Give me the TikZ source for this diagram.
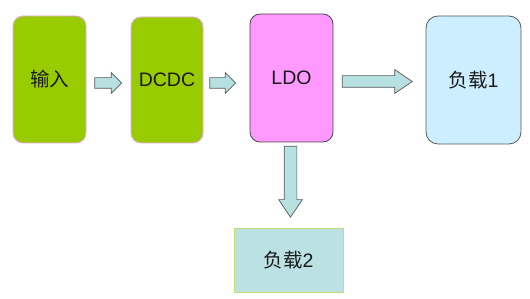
\documentclass[tikz,border=0pt]{standalone}
\usepackage{fontspec}
\setmainfont{Liberation Sans}
\newfontfamily\cjk{Noto Sans CJK SC}
\usetikzlibrary{shapes.arrows,positioning}
\definecolor{ink}{HTML}{1A1A1A}
\definecolor{inkgray}{HTML}{595959}
\definecolor{leafgreen}{HTML}{99CC00}
\definecolor{softpink}{HTML}{E9A6E2}
\definecolor{ldopink}{HTML}{FF99FF}
\definecolor{skyblue}{HTML}{CCEEFF}
\definecolor{tealbg}{HTML}{BBE1E4}
\definecolor{limeedge}{HTML}{C6E070}
\definecolor{arrowbg}{HTML}{B7E0E0}
\tikzset{
  greencard/.style={draw=softpink,fill=leafgreen,line width=0.8pt,rounded corners=10pt,align=center,font=\fontsize{19.5}{22}\selectfont,text=ink},
  pinkcard/.style={draw=inkgray!80!black,fill=ldopink,line width=0.8pt,rounded corners=10pt,align=center,font=\fontsize{19.5}{22}\selectfont,text=ink},
  bluecard/.style={draw=inkgray,fill=skyblue,line width=0.8pt,rounded corners=12pt,align=center,font=\fontsize{19.5}{22}\selectfont,text=ink},
  tealcard/.style={draw=limeedge,fill=tealbg,line width=0.8pt,align=center,font=\fontsize{19.5}{22}\selectfont,text=ink},
  blockarr/.style={single arrow,draw=inkgray,fill=arrowbg,line width=0.7pt,inner sep=0pt,outer sep=0pt}
}
\begin{document}
\begin{tikzpicture}[x=1pt,y=-1pt]
  \useasboundingbox (0,0) rectangle (530,299);
  \node[greencard,minimum width=73pt,minimum height=127pt] (input) at (49.5,79.5) {\cjk 输入};
  \node[greencard,minimum width=72pt,minimum height=126pt] (dcdc) at (167,80) {DCDC};
  \node[pinkcard,minimum width=83pt,minimum height=128pt] (ldo) at (291.5,78) {LDO};
  \node[bluecard,minimum width=95pt,minimum height=128pt] (loadA) at (473.5,80) {{\cjk 负载}1};
  \node[tealcard,minimum width=109pt,minimum height=64pt] (loadB) at (288.5,260) {{\cjk 负载}2};

  \node[blockarr,minimum height=27pt,minimum width=20pt,inner ysep=5pt,single arrow head extend=5pt] (arrA) at (105.5,83) {};
  \node[blockarr,minimum height=26pt,minimum width=20pt,inner ysep=5pt,single arrow head extend=5pt] (arrB) at (220,83) {};
  \node[blockarr,minimum height=70pt,minimum width=23pt,inner ysep=5.5pt,single arrow head extend=6pt,single arrow tip angle=68] (arrC) at (373,81.5) {};
  \node[blockarr,minimum height=71pt,minimum width=23pt,inner ysep=6pt,single arrow head extend=5.5pt,single arrow tip angle=68,rotate=-90] (arrD) at (290.5,177) {};
\end{tikzpicture}
\end{document}
